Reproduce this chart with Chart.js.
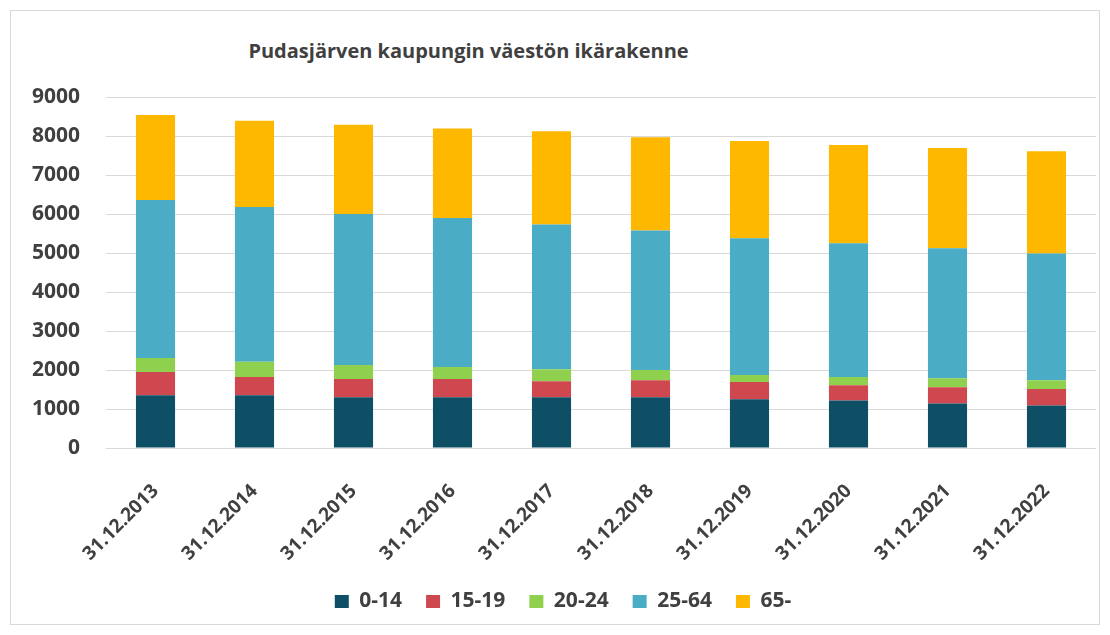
<!DOCTYPE html>
<html>
<head>
<meta charset="utf-8">
<script src="https://cdn.jsdelivr.net/npm/chart.js@4.4.0/dist/chart.umd.min.js"></script>
<style>
  body { margin: 0; background: #fff; }
  #frame {
    position: absolute; left: 10px; top: 10px; width: 1090px; height: 615px;
    border: 1px solid #d9d9d9; box-sizing: border-box;
  }
  #title {
    position: absolute; left: 0; top: 37px; width: 937px; text-align: center;
    font-family: "Open Sans", sans-serif; font-weight: 700; font-size: 20px; color: #404040;
  }
  #wrap { position: absolute; left: 0; top: 0; width: 1110px; height: 635px; }
</style>
</head>
<body>
<div id="frame"></div>
<div id="title">Pudasjärven kaupungin väestön ikärakenne</div>
<div id="wrap"><canvas id="chart"></canvas></div>
<script>
const years = ["31.12.2013", "31.12.2014", "31.12.2015", "31.12.2016", "31.12.2017",
               "31.12.2018", "31.12.2019", "31.12.2020", "31.12.2021", "31.12.2022"];
const age0to14 = [1350, 1350, 1300, 1300, 1300, 1300, 1250, 1220, 1140, 1090];
const age15to19 = [600, 470, 470, 470, 410, 440, 440, 390, 420, 420];
const age20to24 = [360, 390, 360, 310, 310, 260, 180, 210, 230, 230];
const age25to64 = [4050, 3970, 3870, 3820, 3710, 3580, 3510, 3430, 3330, 3250];
const age65plus = [2180, 2210, 2290, 2290, 2390, 2390, 2490, 2520, 2570, 2620];
const yTicks = [0, 1000, 2000, 3000, 4000, 5000, 6000, 7000, 8000, 9000];

const font = "'Open Sans', sans-serif";
const textColor = "#404040";

const ctx = document.getElementById('chart').getContext('2d');

function ds(label, data, color) {
    return {
        label: label,
        data: data,
        backgroundColor: color,
        borderWidth: 0,
        barPercentage: 0.79,
        categoryPercentage: 0.5
    };
}

new Chart(ctx, {
    type: 'bar',
    data: {
        labels: years,
        datasets: [
            ds('0-14', age0to14, '#0e4f66'),
            ds('15-19', age15to19, '#d0484f'),
            ds('20-24', age20to24, '#8fd14f'),
            ds('25-64', age25to64, '#4bacc6'),
            ds('65-', age65plus, '#ffb800')
        ]
    },
    options: {
        responsive: true,
        maintainAspectRatio: false,
        animation: false,
        layout: { padding: { top: 97, left: 30, right: 14, bottom: 13 } },
        plugins: {
            legend: {
                position: 'bottom',
                labels: {
                    color: textColor,
                    font: { family: font, size: 21, weight: '700' },
                    boxWidth: 14,
                    boxHeight: 13,
                    padding: 24
                }
            },
            tooltip: { enabled: false }
        },
        scales: {
            x: {
                stacked: true,
                grid: { display: false },
                border: { display: false },
                afterFit: axis => { axis.height = 119; },
                ticks: {
                    color: textColor,
                    padding: 24,
                    font: { family: font, size: 19, weight: '700' },
                    minRotation: 45,
                    maxRotation: 45
                }
            },
            y: {
                stacked: true,
                min: yTicks[0],
                max: yTicks[yTicks.length - 1],
                afterBuildTicks: axis => { axis.ticks = yTicks.map(v => ({ value: v })); },
                afterFit: axis => { axis.width = 76; },
                grid: { color: '#d9d9d9', drawTicks: false },
                border: { display: false },
                ticks: {
                    color: textColor,
                    padding: 26,
                    font: { family: font, size: 21, weight: '700' },
                    callback: v => String(v)
                }
            }
        }
    }
});
</script>
</body>
</html>
